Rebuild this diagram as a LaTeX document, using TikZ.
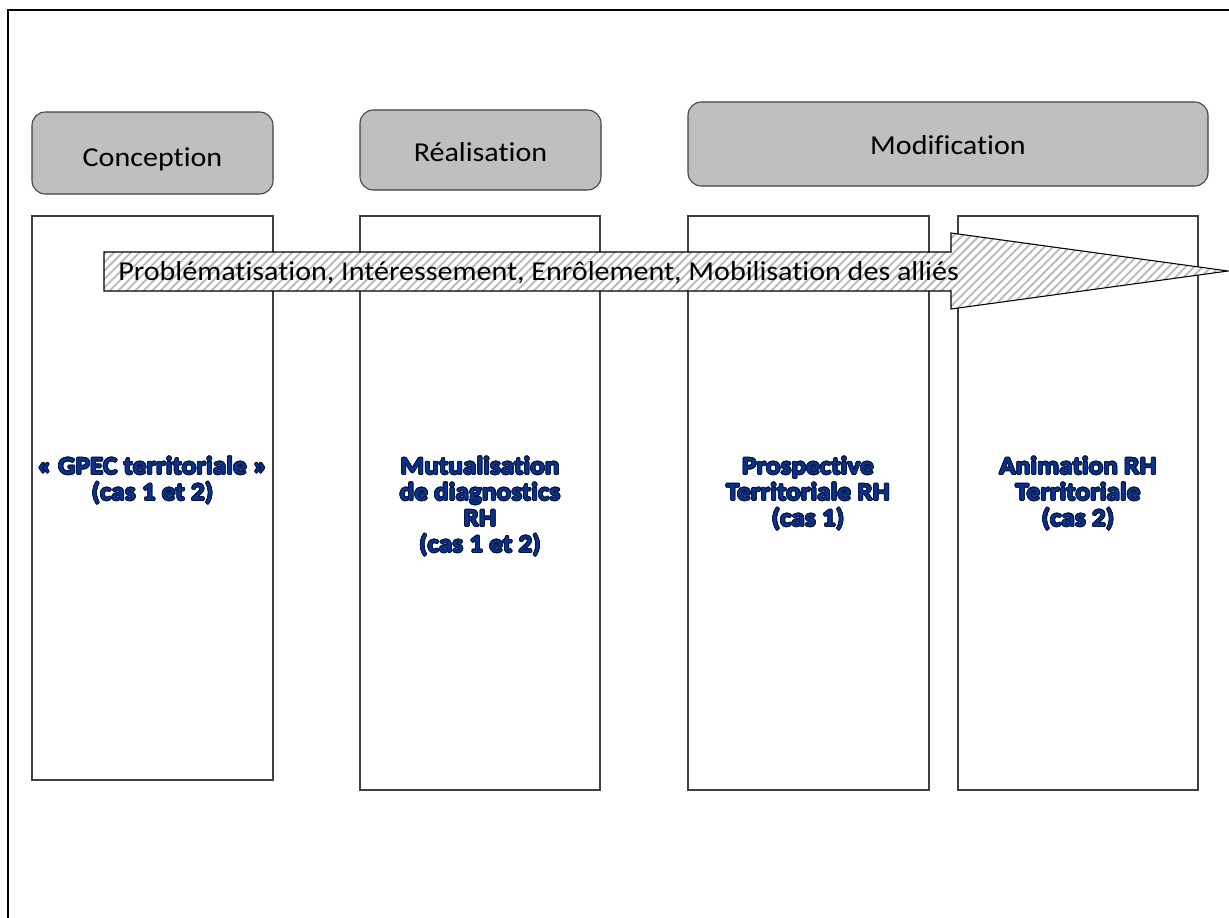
\documentclass[tikz,border=0pt]{standalone}
\usepackage{fontspec}
\setmainfont{Carlito}[FakeStretch=1.1,Ligatures=NoCommon]
\usepackage{contour}
\contourlength{0.6pt}
\usetikzlibrary{patterns.meta}
\definecolor{framec}{rgb}{0,0,0}
\definecolor{linec}{RGB}{64,64,64}
\definecolor{hdrfill}{RGB}{191,191,191}
\definecolor{txtblue}{RGB}{10,50,140}
\definecolor{glowc}{RGB}{5,20,60}
\definecolor{stripec}{RGB}{185,185,185}
\newcommand\glow[1]{\contour{glowc}{#1}}
\begin{document}
\begin{tikzpicture}[x=0.75pt,y=-0.75pt,
  frameline/.style={draw=framec,line width=1.6pt},
  hdrbox/.style={draw=linec,fill=hdrfill,line width=0.8pt,rounded corners=10pt,inner sep=0pt},
  hdrtext/.style={font=\fontsize{20.5}{24}\selectfont,inner sep=0pt,anchor=base,text=black},
  colbox/.style={draw=linec,line width=1.2pt,inner sep=0pt},
  coltext/.style={font=\bfseries\fontsize{18.6}{19.5}\selectfont,align=center,text=txtblue,inner sep=0pt},
  bigarrow/.style={draw=black,line width=0.8pt,preaction={fill=white},
     pattern={Lines[angle=45,distance=4.5pt,line width=1.4pt]},pattern color=stripec},
  arrowtext/.style={font=\fontsize{20.5}{24}\selectfont,inner sep=0pt,anchor=base west,text=black}]
\useasboundingbox (0,0) rectangle (1229,918);
% outer frame (continues beyond right and bottom edges)
\draw[frameline] (8,925) -- (8,10) -- (1240,10);
% header boxes
\node[hdrbox,minimum width=241*0.75pt,minimum height=82*0.75pt] (conc) at (152.5,153) {};
\node[hdrbox,minimum width=241*0.75pt,minimum height=80*0.75pt] (real) at (480.5,150) {};
\node[hdrbox,minimum width=520*0.75pt,minimum height=84*0.75pt] (modi) at (948,144) {};
\node[hdrtext] (concT) at (152.5,166) {Conception};
\node[hdrtext] (realT) at (480.5,161) {Réalisation};
\node[hdrtext] (modiT) at (948,154) {Modification};
% columns
\node[colbox,minimum width=241*0.75pt,minimum height=564*0.75pt] (c1) at (152.5,498) {};
\node[colbox,minimum width=240*0.75pt,minimum height=574*0.75pt] (c2) at (480,503) {};
\node[colbox,minimum width=241*0.75pt,minimum height=574*0.75pt] (c3) at (808.5,503) {};
\node[colbox,minimum width=240*0.75pt,minimum height=574*0.75pt] (c4) at (1078,503) {};
% big arrow
\draw[bigarrow] (104,252) -- (951,252) -- (951,233) -- (1228,271) -- (951,309) -- (951,291) -- (104,291) -- cycle;
\node[arrowtext] (arrT) at (118,280) {Problématisation, Intéressement, Enrôlement, Mobilisation des alliés};
% column texts
\node[coltext] (t1) at (152.5,481) {\glow{« GPEC territoriale »}\\\glow{(cas 1 et 2)}};
\node[coltext] (t2) at (480,507) {\glow{Mutualisation}\\\glow{de diagnostics}\\\glow{RH}\\\glow{(cas 1 et 2)}};
\node[coltext] (t3) at (808,494) {\glow{Prospective}\\\glow{Territoriale RH}\\\glow{(cas 1)}};
\node[coltext] (t4) at (1078,494) {\glow{Animation RH}\\\glow{Territoriale}\\\glow{(cas 2)}};
\end{tikzpicture}
\end{document}
